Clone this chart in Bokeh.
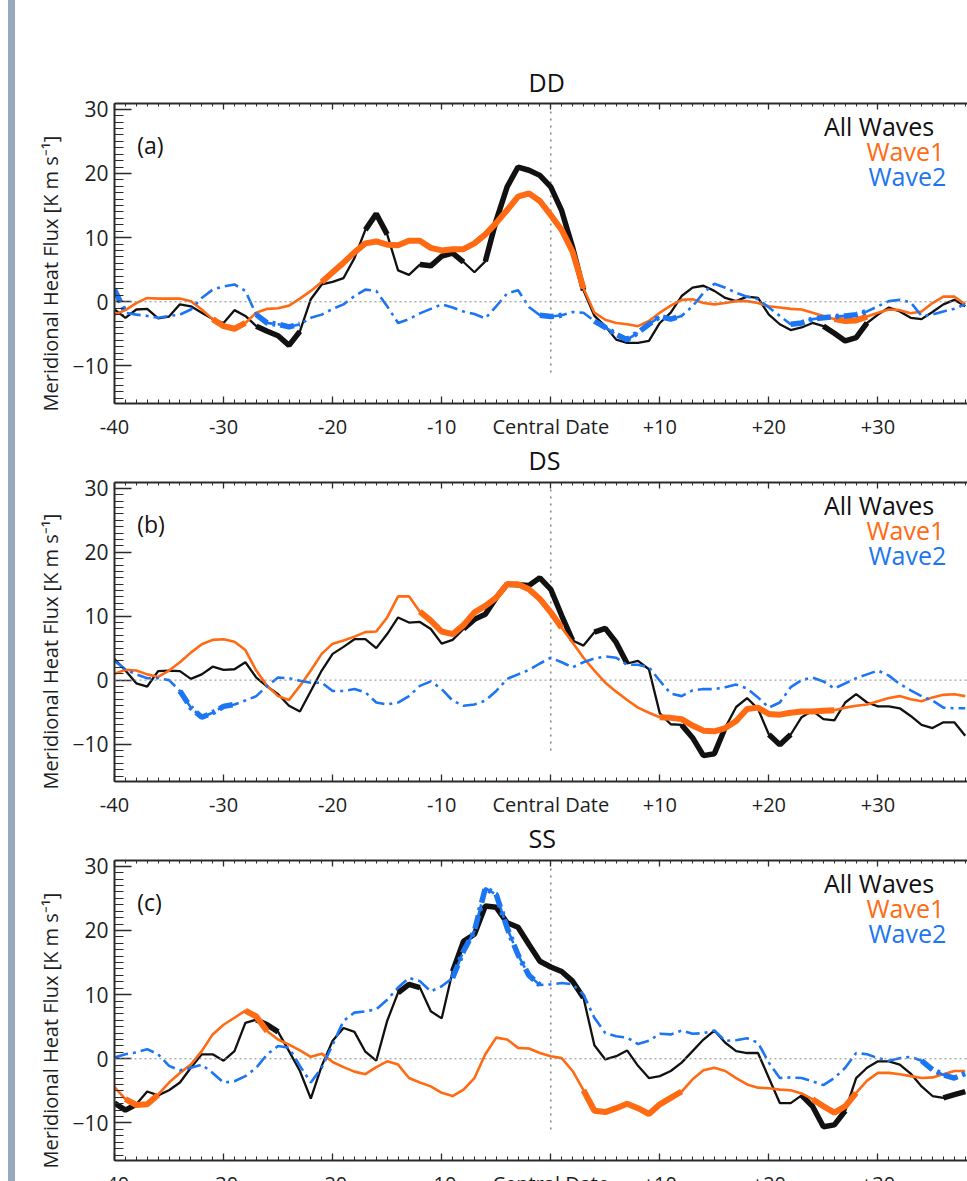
import math
from bokeh.plotting import figure
from bokeh.models import (Range1d, LinearAxis, SingleIntervalTicker, Label, Title,
                          Span, Div, CustomJSTickFormatter)
from bokeh.layouts import column, row
from bokeh.embed import file_html
from bokeh.resources import INLINE

# ---------------- data ----------------
days = list(range(-40, 39))

x_tick_pos = [-40, -30, -20, -10, 0, 10, 20, 30]
x_tick_labels = ["-40", "-30", "-20", "-10", "Central Date", "+10", "+20", "+30"]

titles = ["DD", "DS", "SS"]
tags = ["(a)", "(b)", "(c)"]
series_names = ["All Waves", "Wave1", "Wave2"]
y_title = "Meridional Heat Flux [K m s\u207b\u00b9]"

dd_all = [-1.2, -2.5, -1.2, -1.1, -2.6, -2.3, -0.4, -0.7, -1.7, -2.7,
          -3.3, -1.3, -2.2, -3.8, -4.6, -5.3, -6.8, -4.6, 0.4, 2.7,
          3.1, 3.7, 6.8, 11.2, 13.7, 10.5, 4.9, 4.2, 5.8, 5.6,
          7.1, 7.6, 6.2, 4.6, 6.3, 12.7, 17.9, 21.0, 20.5, 19.7,
          17.9, 14.2, 8.5, 1.8, -2.2, -3.8, -5.9, -6.4, -6.4, -6.1,
          -3.3, -1.7, 0.9, 2.2, 2.5, 1.7, 0.6, 0.1, 0.8, 0.6,
          -2.0, -3.5, -4.4, -4.0, -3.3, -3.8, -4.9, -6.1, -5.6, -3.3,
          -2.0, -0.9, -1.5, -2.5, -2.7, -1.6, -0.4, 0.3, -0.7]
dd_w1 = [-2.0, -1.3, -0.2, 0.6, 0.5, 0.5, 0.5, 0.1, -1.2, -2.7,
         -3.8, -4.2, -3.3, -1.7, -1.1, -1.0, -0.6, 0.5, 1.7, 3.1,
         4.6, 6.1, 7.7, 9.1, 9.4, 8.9, 8.8, 9.5, 9.5, 8.4,
         8.0, 8.2, 8.2, 9.1, 10.5, 12.3, 14.3, 16.4, 16.9, 15.7,
         13.5, 11.2, 7.8, 2.1, -1.7, -2.8, -3.3, -3.5, -3.8, -3.0,
         -1.7, -0.6, 0.3, 0.4, -0.2, -0.4, -0.2, 0.1, 0.1, -0.2,
         -0.7, -0.9, -1.1, -1.2, -1.7, -2.2, -2.7, -3.0, -2.9, -2.3,
         -1.7, -1.2, -1.3, -1.8, -1.5, -0.2, 0.8, 0.8, -0.4]
dd_w2 = [1.9, -1.7, -2.0, -2.2, -2.5, -2.2, -2.0, -1.2, 0.6, 1.9,
         2.4, 2.7, 1.7, -2.0, -3.3, -3.5, -3.9, -3.5, -2.5, -2.0,
         -1.1, -0.4, 0.9, 1.9, 1.7, -0.7, -3.3, -2.7, -1.8, -1.1,
         -0.4, -0.9, -1.5, -1.9, -2.6, -0.7, 1.3, 1.8, -0.8, -2.1,
         -2.3, -2.1, -1.6, -1.7, -3.0, -4.0, -5.1, -5.9, -4.8, -3.5,
         -2.3, -2.7, -2.2, -0.7, 1.4, 2.8, 2.2, 1.4, 0.8, 0.4,
         -0.9, -2.2, -3.5, -3.3, -2.7, -2.5, -2.3, -2.2, -2.0, -1.5,
         -0.7, 0.1, 0.3, -0.1, -2.2, -2.0, -1.5, -1.1, -0.4]

ds_all = [3.3, 1.5, -0.5, -1.0, 1.4, 1.5, 1.4, 0.2, 0.9, 2.1,
          1.6, 1.7, 2.8, 0.4, -1.0, -2.2, -4.0, -4.9, -1.7, 1.5,
          4.1, 5.2, 6.4, 6.4, 5.0, 7.2, 9.8, 9.0, 9.1, 8.0,
          5.7, 6.3, 8.0, 9.5, 10.3, 12.9, 15.0, 14.9, 14.8, 16.0,
          14.2, 10.1, 6.2, 5.4, 7.5, 8.1, 5.9, 2.6, 3.0, 1.7,
          -5.2, -6.9, -7.0, -9.0, -11.8, -11.5, -7.4, -4.2, -2.8, -4.5,
          -8.5, -10.1, -8.5, -5.8, -4.8, -6.1, -6.3, -3.5, -2.2, -3.5,
          -4.1, -4.1, -4.4, -5.6, -7.0, -7.5, -6.6, -6.6, -8.7]
ds_w1 = [1.0, 1.6, 1.5, 0.9, 0.5, 1.5, 2.8, 4.3, 5.6, 6.3,
         6.4, 6.0, 4.7, 1.5, -0.9, -2.5, -3.1, -0.9, 1.5, 4.1,
         5.7, 6.2, 6.8, 7.5, 7.6, 9.8, 13.1, 13.1, 10.7, 9.3,
         7.6, 7.2, 8.6, 10.6, 11.6, 12.9, 15.0, 15.0, 14.2, 12.7,
         10.6, 8.2, 5.9, 3.5, 1.5, -0.4, -1.8, -3.1, -4.3, -5.1,
         -5.8, -5.9, -6.1, -7.1, -7.9, -8.0, -7.5, -6.4, -4.5, -4.3,
         -5.3, -5.4, -5.1, -4.9, -4.9, -4.8, -4.7, -4.3, -4.0, -3.8,
         -3.3, -2.8, -2.5, -3.0, -3.3, -2.7, -2.3, -2.2, -2.5]
ds_w2 = [3.0, 1.7, 0.9, 0.3, 0.3, 0.0, -1.7, -4.3, -5.8, -5.1,
         -4.1, -3.8, -3.2, -2.5, -0.9, 0.4, 0.3, -0.1, -0.4, -0.4,
         -1.7, -1.7, -1.4, -1.9, -3.5, -3.8, -3.5, -2.5, -0.9, -0.2,
         -1.4, -3.2, -4.0, -3.8, -3.2, -1.7, 0.2, 0.9, 1.6, 2.6,
         3.5, 2.8, 2.0, 2.8, 3.4, 3.7, 3.5, 2.4, 2.4, 2.0,
         -0.1, -2.1, -2.5, -1.6, -1.4, -1.4, -1.1, -0.7, -1.3, -2.7,
         -4.3, -3.5, -1.1, 0.0, 0.4, -0.2, -1.3, -0.5, 0.3, 0.9,
         1.5, 0.7, -0.6, -1.6, -2.5, -3.2, -4.3, -4.4, -4.4]

ss_all = [-6.9, -8.0, -7.1, -5.1, -5.7, -4.9, -3.7, -1.4, 0.7, 0.7,
          -0.3, 1.2, 5.6, 6.1, 5.3, 4.2, 1.2, -1.9, -6.2, -1.1,
          2.8, 4.8, 4.2, 1.1, -0.3, 5.9, 10.3, 11.6, 11.1, 7.4,
          6.3, 13.6, 18.3, 19.4, 23.8, 23.6, 21.2, 20.5, 17.8, 15.2,
          14.3, 13.6, 12.1, 9.5, 2.1, -0.1, 0.4, 1.3, -1.1, -3.0,
          -2.7, -1.9, -0.6, 1.2, 3.0, 4.4, 2.5, 1.2, 0.9, 0.9,
          -3.0, -6.9, -6.9, -5.7, -7.4, -10.6, -10.3, -8.1, -3.0, -1.4,
          -0.4, -0.4, -0.9, -2.3, -4.3, -5.8, -6.1, -5.6, -5.1]
ss_w1 = [-4.4, -6.3, -7.2, -7.1, -5.6, -3.7, -2.2, -0.9, 1.2, 3.8,
         5.3, 6.4, 7.5, 6.6, 4.3, 3.0, 2.2, 1.3, 0.3, 0.8,
         -0.5, -1.3, -2.0, -2.4, -1.3, -0.4, -0.9, -3.0, -3.7, -4.3,
         -5.3, -5.8, -4.8, -3.0, 0.7, 3.3, 3.0, 1.7, 1.6, 0.9,
         0.4, 0.1, -1.9, -4.9, -8.1, -8.3, -7.7, -7.0, -7.7, -8.6,
         -7.1, -6.1, -5.1, -3.2, -1.8, -1.4, -1.9, -3.0, -4.0, -4.5,
         -4.6, -4.8, -4.9, -5.4, -6.3, -7.4, -8.4, -7.4, -5.3, -3.4,
         -2.2, -2.2, -2.4, -2.7, -3.0, -2.9, -2.4, -1.9, -1.9]
ss_w2 = [0.2, 0.7, 1.0, 1.5, 0.7, -1.1, -1.8, -1.4, -0.9, -2.2,
         -3.7, -3.5, -2.7, -1.4, 0.7, 2.0, 1.7, -1.1, -3.7, -1.4,
         2.2, 5.9, 7.2, 7.4, 7.7, 9.2, 11.1, 12.6, 12.1, 10.5,
         11.3, 12.6, 16.8, 19.9, 26.6, 25.6, 20.4, 16.2, 13.0, 11.5,
         11.6, 11.8, 11.6, 10.0, 6.4, 4.0, 3.5, 3.3, 2.3, 2.8,
         3.9, 3.8, 4.4, 3.9, 4.0, 4.4, 2.8, 2.9, 3.2, 2.5,
         -0.6, -3.0, -2.9, -3.0, -3.5, -4.1, -3.0, -1.4, 0.9, 0.7,
         0.1, -0.3, 0.1, 0.3, -0.3, -1.7, -2.5, -3.0, -2.3]

# day ranges where each curve is drawn thick (significant)
dd_sig = {"all": [(-27, -23), (-17, -15), (-12, -8), (-6, 3), (25, 29)],
          "w1": [(-31, -28), (-21, 3), (26, 29)],
          "w2": [(-40, -39), (-27, -23), (-1, 1), (4, 12), (22, 29)]}
ds_sig = {"all": [(-8, 2), (4, 7), (12, 16), (20, 22)],
          "w1": [(-12, 1), (10, 26)],
          "w2": [(-34, -29)]}
ss_sig = {"all": [(-40, -38), (-27, -25), (-14, -12), (-9, 3), (23, 27), (36, 38)],
          "w1": [(-39, -36), (-28, -26), (3, 12), (24, 28)],
          "w2": [(-9, -1), (34, 38)]}

# ---------------- style ----------------
FONT = "Open Sans"
ORANGE = "#FF6A13"
BLUE = "#1C75F2"
BLACK = "#111111"
AXC = "#2a2a2a"
TXT = "#1e1e1e"
X_RANGE = (-40, 38.21)
Y_RANGE = (-15.85, 30.9)
VLINE = (-11.0, 30.5)
TITLE_OFFSET = 414


def thick(vals, ranges):
    return [v if any(a <= d <= b for a, b in ranges) else float("nan")
            for d, v in zip(days, vals)]


def style_axis(ax):
    ax.ticker = SingleIntervalTicker(interval=10, num_minor_ticks=10)
    ax.major_tick_out = 0
    ax.minor_tick_out = 0
    ax.axis_line_width = 2
    ax.axis_line_color = AXC
    ax.major_tick_line_color = AXC
    ax.minor_tick_line_color = AXC
    ax.major_tick_line_width = 1.3
    ax.major_label_text_font = FONT
    ax.major_label_text_color = TXT


def panel_title(text, standoff):
    return Title(text=text, align="left", offset=TITLE_OFFSET, standoff=standoff,
                 text_font=FONT, text_font_size="25px", text_font_style="normal",
                 text_color="#111111")


def panel(tag, all_w, w1, w2, sig, h, top, bottom, own_title=None, next_title=None):
    p = figure(width=952, height=h, x_range=Range1d(*X_RANGE), y_range=Range1d(*Y_RANGE),
               output_backend="svg", toolbar_location=None,
               min_border_left=99, min_border_right=0,
               min_border_top=top, min_border_bottom=bottom)
    p.outline_line_color = None
    p.grid.visible = False
    p.title.visible = False

    ya = p.yaxis[0]
    style_axis(ya)
    ya.major_tick_in = 17
    ya.minor_tick_in = 9
    ya.major_label_text_font_size = "21px"
    ya.major_label_standoff = 6

    xa = p.xaxis[0]
    style_axis(xa)
    xa.major_tick_in = 7
    xa.minor_tick_in = 4
    xa.major_label_text_font_size = "20px"
    xa.major_label_standoff = 9
    xa.major_label_overrides = {k: v for k, v in zip(x_tick_pos, x_tick_labels)}

    ta = LinearAxis()
    style_axis(ta)
    ta.major_tick_in = 6
    ta.minor_tick_in = 3
    ta.formatter = CustomJSTickFormatter(code="return ''")
    ta.major_label_standoff = 0
    ta.major_label_text_font_size = "0px"
    p.add_layout(ta, "above")

    if own_title is not None:
        p.add_layout(panel_title(own_title, 10), "above")
    # the title of the panel underneath sits in this figure's lower margin
    if next_title is not None:
        p.add_layout(panel_title(next_title, -4), "below")

    p.add_layout(Title(text=y_title, align="left", offset=-8, standoff=12,
                       text_font=FONT, text_font_size="20px", text_font_style="normal",
                       text_color=TXT), "left")

    p.add_layout(Span(location=0, dimension="width", line_color="#888888",
                      line_dash="2 3", line_width=1))
    p.line([0, 0], list(VLINE), line_color="#8a8a8a", line_dash="2 5", line_width=1.6)

    p.line(days, all_w, line_color=BLACK, line_width=2.3)
    p.line(days, thick(all_w, sig["all"]), line_color=BLACK, line_width=5.5)
    p.line(days, w1, line_color=ORANGE, line_width=2.6)
    p.line(days, thick(w1, sig["w1"]), line_color=ORANGE, line_width=6)
    p.line(days, w2, line_color=BLUE, line_width=2.6, line_dash="14 5 3 5")
    p.line(days, thick(w2, sig["w2"]), line_color=BLUE, line_width=5.5, line_dash="14 5 3 5")

    # panel tag
    p.add_layout(Label(x=-37.92, y=24.36, text=tag, text_align="left",
                       text_baseline="middle", text_font=FONT, text_font_size="23px",
                       text_color="#111111"))
    # legend texts
    for name, xx, yy, col in zip(series_names, [35.16, 36.08, 36.26], [27.45, 23.53, 19.57],
                                 [BLACK, ORANGE, BLUE]):
        p.add_layout(Label(x=xx, y=yy, text=name, text_align="right",
                           text_baseline="middle", text_font=FONT,
                           text_font_size="25px", text_color=col))
    return p


p1 = panel(tags[0], dd_all, dd_w1, dd_w2, dd_sig, 474, 103, 70,
           own_title=titles[0], next_title=titles[1])
p2 = panel(tags[1], ds_all, ds_w1, ds_w2, ds_sig, 378, 8, 70, next_title=titles[2])
p3 = panel(tags[2], ss_all, ss_w1, ss_w2, ss_sig, 347, 8, 38)

bar = Div(text="", width=7, height=1181, margin=(0, 0, 0, 8),
          styles={"background-color": "#98A9BE"})
layout = row(bar, column(p1, p2, p3, spacing=0), spacing=0, height=1181,
             styles={"overflow": "hidden"})

open("out.html", "w").write(file_html(layout, INLINE))
